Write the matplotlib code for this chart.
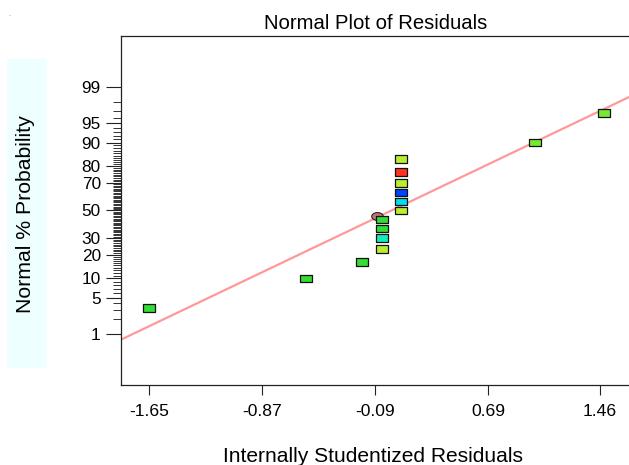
import numpy as np
import matplotlib
matplotlib.use("Agg")
import matplotlib.pyplot as plt
from matplotlib.patches import Rectangle
from statistics import NormalDist

plt.rcParams['font.family'] = ['Liberation Sans', 'DejaVu Sans']

# ---- data ----
residuals = [-1.65, -0.57, -0.18, -0.045, -0.045, -0.045, -0.045,
             0.086, 0.086, 0.086, 0.086, 0.086, 0.086, 1.01, 1.49]
probability = [3.3, 10.0, 16.7, 23.3, 30.0, 36.7, 43.3,
               50.0, 56.7, 63.3, 70.0, 76.7, 83.3, 90.0, 96.7]
point_colors = ['#33DD33', '#33DD33', '#33DD33', '#BBEE33', '#11EEBB', '#33DD33', '#33DD33',
                '#BBEE33', '#00DDEE', '#0044FF', '#BBEE33', '#FF3322', '#BBEE33', '#77E833', '#77E833']
special_x = [-0.08]
special_p = [45.5]
line_center = 0.022
line_sd = 0.766
x_ticks = [-1.65, -0.87, -0.09, 0.69, 1.46]
y_major = [1, 5, 10, 20, 30, 50, 70, 80, 90, 95, 99]
y_minor = [v for v in range(1, 100) if v not in y_major]

nd = NormalDist()

def fwd(p):
    p = np.asarray(p, dtype=float)
    q = np.clip(p / 100.0, 1e-9, 1 - 1e-9)
    q = np.where(np.isfinite(q), q, 0.5)
    return np.vectorize(nd.inv_cdf, otypes=[float])(q)

def inv(z):
    z = np.asarray(z, dtype=float)
    z = np.where(np.isfinite(z), z, 0.0)
    return np.vectorize(nd.cdf, otypes=[float])(z) * 100.0

W, H = 629, 465
fig = plt.figure(figsize=(W / 100, H / 100), dpi=100)
ax = fig.add_axes([121 / W, 1 - 385 / H, (629 - 121) / W, (385 - 36) / H])
ax.set_yscale('function', functions=(fwd, inv))

xmin, xmax = -1.843, 1.66
ax.set_xlim(xmin, xmax)
ax.set_ylim(inv(-3.29), inv(3.29))

# fitted reference line
xl = np.linspace(xmin, xmax, 50)
pl = inv((xl - line_center) / line_sd)
ax.plot(xl, pl, color='#FF9999', lw=1.6, zorder=2)

# special (ellipse) point
ell = [(np.cos(t), 0.68 * np.sin(t)) for t in np.linspace(0, 2 * np.pi, 41)]
ax.scatter(special_x, special_p, s=8.3 ** 2, marker=ell, c='#C87272',
           edgecolors='#222222', linewidths=0.8, zorder=3)

rect = [(-1, -0.66), (1, -0.66), (1, 0.66), (-1, 0.66), (-1, -0.66)]
ax.scatter(residuals, probability, s=8.5 ** 2, marker=rect, c=point_colors,
           edgecolors='#111111', linewidths=0.9, zorder=4)

ax.set_xticks(x_ticks)
ax.set_xticklabels([f"{v:.2f}" for v in x_ticks])
ax.set_yticks(y_major)
ax.set_yticklabels([str(v) for v in y_major])
ax.set_yticks(y_minor, minor=True)
ax.xaxis.set_minor_locator(matplotlib.ticker.NullLocator())

ax.tick_params(axis='x', which='major', length=7.5, width=0.8, pad=6, labelsize=12.6, color='#222222')
ax.tick_params(axis='y', which='major', length=11, width=0.8, pad=3.5, labelsize=12.4, color='#222222')
ax.tick_params(axis='y', which='minor', length=6, width=0.7, color='#333333')

for s in ['left', 'bottom', 'top']:
    ax.spines[s].set_linewidth(0.9)
    ax.spines[s].set_color('#222222')
ax.spines['right'].set_visible(False)

fig.text(376 / W, 1 - 23.5 / H, 'Normal Plot of Residuals', ha='center', va='center', fontsize=14.6)
fig.text(373 / W, 1 - 456 / H, 'Internally Studentized Residuals', ha='center', va='center', fontsize=15.1)

fig.patches.append(Rectangle((7 / W, 1 - 368 / H), 40 / W, 309 / H, transform=fig.transFigure,
                             facecolor='#EEFFFF', edgecolor='none', zorder=0))
fig.text(26 / W, 1 - 214 / H, 'Normal % Probability', ha='center', va='center',
         rotation=90, fontsize=15.3)
fig.text(9 / W, 1 - 14 / H, '.', ha='center', va='center', fontsize=5, color='#666666')

fig.savefig('out.png', dpi=100)
